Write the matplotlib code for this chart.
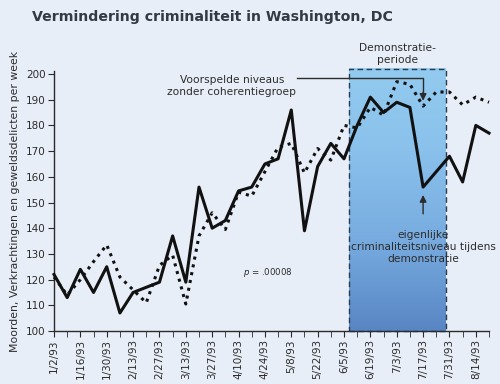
import numpy as np
import matplotlib
matplotlib.use('Agg')
import matplotlib.pyplot as plt
from matplotlib.patches import Rectangle

# Weekly data (week 0 = 1/2/93)
actual = [122, 113, 124, 115, 125, 107, 115, 117, 119, 137,
          119, 156, 140, 143, 154.5, 156, 165, 167, 186, 139,
          164, 173, 167, 180, 191, 185, 189, 187, 156, 162,
          168, 158, 180, 177]
predicted = [121, 114, 120, 127, 133.5, 121, 116, 111, 125.5, 129.5,
             110.5, 137, 146, 139.5, 154, 152.5, 162, 171.5, 173, 161.5,
             171, 166.5, 180, 179, 187, 184, 197, 196, 187.5, 193,
             193, 188, 191, 189]
date_labels = ['1/2/93', '1/16/93', '1/30/93', '2/13/93', '2/27/93', '3/13/93',
               '3/27/93', '4/10/93', '4/24/93', '5/8/93', '5/22/93', '6/5/93',
               '6/19/93', '7/3/93', '7/17/93', '7/31/93', '8/14/93']
demo_start, demo_end = 22.4, 29.7

bg = '#e8eef8'
dark = '#2b2b2b'
weeks = np.arange(len(actual))

fig = plt.figure(figsize=(5, 3.84), dpi=100, facecolor=bg)
ax = fig.add_axes([0.108, 0.138, 0.870, 0.676])
ax.set_facecolor(bg)

# demonstration period: gradient box
grad = np.linspace(0, 1, 256).reshape(-1, 1)
cmap = matplotlib.colors.LinearSegmentedColormap.from_list(
    'g', [(0, '#5886c4'), (0.35, '#78ace0'), (0.7, '#8ac2ec'), (1, '#93caef')])
ax.imshow(grad, extent=[demo_start, demo_end, 100, 202], origin='lower', cmap=cmap,
          aspect='auto', zorder=1, clip_on=False)
ax.add_patch(Rectangle((demo_start, 100), demo_end - demo_start, 102, fill=False,
                       ec='#2a3b50', lw=1, ls=(0, (4, 2.5)), zorder=2, clip_on=False))

ax.plot(weeks, predicted, color='#111111', lw=2.2, ls=(0, (1, 1.6)), zorder=3, clip_on=False)
ax.plot(weeks, actual, color='#111111', lw=2.2, zorder=4, clip_on=False)

ax.set_xlim(0, 33)
ax.set_ylim(100, 201)
ax.set_yticks(range(100, 201, 10))
ax.set_xticks(range(0, 33, 2))
ax.set_xticklabels(date_labels, rotation=90)
ax.set_xticks(range(1, 34, 2), minor=True)
for s in ['top', 'right']:
    ax.spines[s].set_visible(False)
for s in ['left', 'bottom']:
    ax.spines[s].set_color(dark)
    ax.spines[s].set_linewidth(1)
ax.tick_params(which='both', length=4, color=dark, labelsize=7.5, labelcolor=dark, pad=2)
ax.set_ylabel('Moorden, Verkrachtingen en geweldsdelicten per week', fontsize=7.8,
              color=dark, labelpad=4)

fig.text(0.064, 0.955, 'Vermindering criminaliteit in Washington, DC', fontsize=10.2,
         fontweight='bold', color='#333a44', va='center')

ax.text((demo_start + demo_end) / 2, 203.5, 'Demonstratie-\nperiode', ha='center', va='bottom',
        fontsize=7.7, color=dark, linespacing=1.25)
ax.text(13.5, 195.5, 'Voorspelde niveaus\nzonder coherentiegroep', ha='center', va='center',
        fontsize=7.7, color=dark, linespacing=1.25)
ax.plot([18.4, 28, 28], [198.5, 198.5, 193], color=dark, lw=1, zorder=5)
ax.annotate('', xy=(28, 188.5), xytext=(28, 194), zorder=5,
            arrowprops=dict(arrowstyle='-|>', color=dark, lw=1, mutation_scale=10))
ax.annotate('', xy=(28, 154), xytext=(28, 144.5), zorder=5,
            arrowprops=dict(arrowstyle='-|>', color=dark, lw=1, mutation_scale=10))
ax.text(28, 132.5, 'eigenlijke\ncriminaliteitsniveau tijdens\ndemonstratie', ha='center',
        va='center', fontsize=7.7, color=dark, linespacing=1.25)
ax.text(16.2, 122.6, '$p$ = .00008', ha='center', va='center', fontsize=6.2, color=dark)

fig.savefig('out.png', dpi=100, facecolor=bg)
